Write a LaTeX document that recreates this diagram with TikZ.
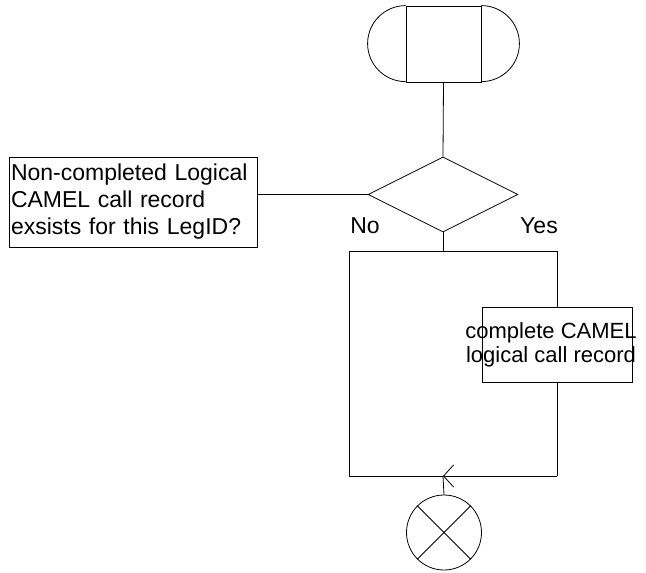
\documentclass[tikz,border=0pt]{standalone}
\usepackage{fontspec}
\setmainfont{Liberation Sans}
\usetikzlibrary{positioning,arrows.meta,shapes.geometric,calc}

% text line that may run past its box
\newcommand{\overrun}[1]{\makebox[0pt]{#1\hspace*{12pt}}}

\begin{document}
\begin{tikzpicture}[
  x=1pt, y=-1pt,
  every node/.style={font=\fontsize{23}{27}\selectfont},
  every path/.style={line width=0.8pt},
  termbox/.style={rectangle, draw, minimum width=75pt, minimum height=76pt, inner sep=0pt},
  decision/.style={diamond, draw, aspect=2, minimum width=150pt, minimum height=75pt, inner sep=0pt},
  querybox/.style={rectangle, draw, text width=244pt, align=left, inner sep=2pt,
                   minimum width=248pt, minimum height=90pt},
  taskbox/.style={rectangle, draw, minimum width=150pt, minimum height=75pt, align=center,
                  inner sep=0pt, font=\fontsize{22}{24}\selectfont},
  stopnode/.style={circle, draw, minimum size=75pt, inner sep=0pt},
  arr/.style={-{Straight Barb[length=10pt, width=22pt]}}
]
  \useasboundingbox (0,0) rectangle (646,573);
  % start symbol
  \node[termbox] (start) at (443.5,44) {};
  \draw (start.north west) arc[start angle=90, end angle=270, radius=38pt];
  \draw (start.north east) arc[start angle=90, end angle=-90, radius=38pt];
  % question
  \node[decision] (dec) at (443,194.5) {};
  \node[querybox] (query) at (133,202)
        {Non-completed Logical\\CAMEL call record\\exsists for this LegID?};
  \draw (dec.west) -- (dec.west -| query.east);
  \node (no) at (365,226) {No};
  \node (yes) at (539,226) {Yes};
  % branches
  \coordinate (split) at (443,251);
  \coordinate (splitL) at (349,251);
  \coordinate (splitR) at (557,251);
  \coordinate (joinL) at (349,476);
  \coordinate (joinR) at (557,476);
  \coordinate (join) at (443,476);
  \node[taskbox] (act) at (557,344.5)
        {\overrun{complete CAMEL}\\\overrun{logical call record}};
  \node[stopnode] (stop) at (444,532.5) {};
  \draw (start.south) -- (dec.north);
  \draw (dec.south) -- (split);
  \draw (splitL) -- (splitR);
  \draw (splitL) -- (joinL);
  \draw (splitR) -- (act.north);
  \draw (act.south) -- (joinR);
  \draw[arr] (joinR) -- (join);
  \draw (join) -- (joinL);
  \draw (join) -- (stop.north);
  \draw (stop.north west) -- (stop.south east);
  \draw (stop.north east) -- (stop.south west);
\end{tikzpicture}
\end{document}
